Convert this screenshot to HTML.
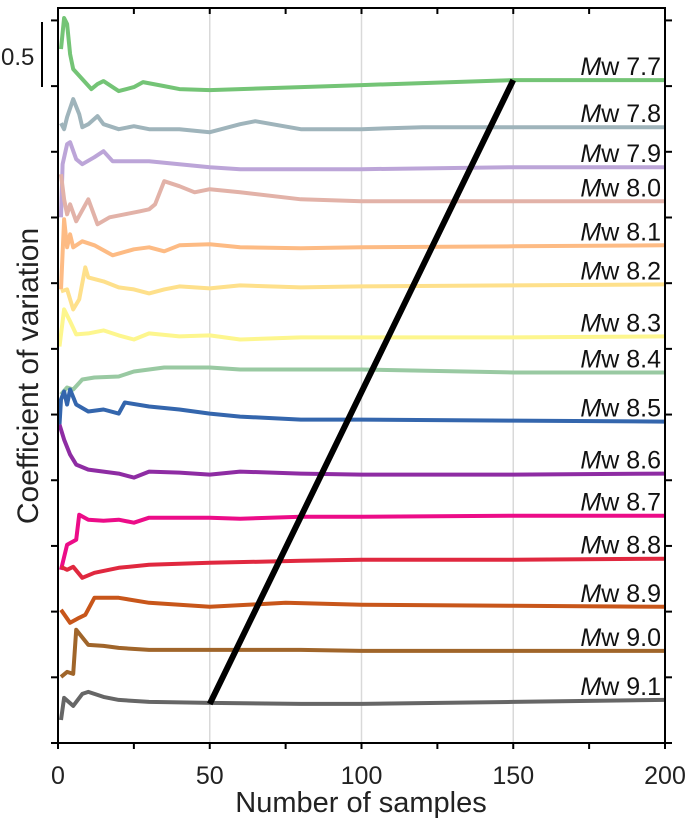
<!DOCTYPE html>
<html><head><meta charset="utf-8"><style>
body{margin:0;background:#fff;}
svg{display:block;font-family:"Liberation Sans",sans-serif;}
</style></head><body>
<svg id="chart" width="685" height="821"></svg>
<script>
// Data (y values are offsets above the bottom axis in plot units; tick step = 0.5 CV)
const labels=["7.7","7.8","7.9","8.0","8.1","8.2","8.3","8.4","8.5","8.6","8.7","8.8","8.9","9.0","9.1"];
const colors=["#74c476","#9fb4bb","#bca5d8","#e2b2a8","#fdbb84","#fee08b","#fdf68e","#99c9a2","#3466ad","#8e2ca3","#ec0c88","#e0283f","#c8561a","#a0652a","#666666"];
const x77=[1,2,3,4,5,8,11,13,15,18,20,25,28,35,40,50,60,80,100,120,150,200];
const y77=[693,724,718,688,673,663,653,658,661,655,651,655,660,656,653,652,653,655,657,659,662,662];
const x78=[1,2,3,5,7,8,10,13,15,20,25,30,40,50,60,65,80,100,120,150,200];
const y78=[619,613,625,643,628,615,618,626,618,613,616,613,613,610,618,621,613,613,615,615,615];
const x79=[1,1.5,3,4,6,8,12,15,18,25,30,40,50,60,70,100,150,200];
const y79=[525,578,598,600,583,578,585,591,581,581,581,578,575,573,573,573,575,575];
const x80=[1,2,3,4,6,10,13,17,22,27,30,32,35,40,45,50,60,80,100,150,200];
const y80=[568,543,528,538,521,543,518,525,528,531,533,538,561,556,550,553,550,543,541,541,541];
const x81=[1,2,3,4,5,8,12,18,25,30,35,40,50,60,80,100,150,200];
const y81=[453,523,495,508,495,501,497,487,493,495,491,497,498,495,494,495,496,497];
const x82=[1,3,5,7,9,10,15,20,25,30,35,40,50,60,80,100,150,200];
const y82=[451,453,433,443,475,465,461,455,453,449,453,456,454,457,455,456,457,458];
const x83=[0.5,2,4,6,10,15,20,25,30,40,50,60,80,100,150,200];
const y83=[396,433,421,408,409,412,407,403,409,406,407,403,405,405,405,406];
const x84=[1,3,5,8,12,20,25,35,50,60,80,100,150,200];
const y84=[348,355,353,363,365,366,371,375,375,373,373,373,370,370];
const x85=[0.5,1,2,3,4,6,10,15,20,22,30,40,50,60,80,100,150,200];
const y85=[318,343,351,338,353,338,331,333,329,340,336,333,329,326,323,323,322,321];
const x86=[0.5,2,4,6,10,15,20,25,30,40,50,60,80,100,150,200];
const y86=[318,303,288,278,273,271,269,265,271,270,268,271,269,268,268,269];
const x87=[1,3,6,7,10,15,20,25,30,40,50,60,80,100,150,200];
const y87=[173,198,203,228,223,222,223,220,225,225,225,224,226,226,227,227];
const x88=[1,3,5,8,12,20,30,50,80,100,150,200];
const y88=[176,173,176,165,170,175,178,180,182,183,183,184];
const x89=[1,4,7,9,12,20,30,50,75,100,150,200];
const y89=[133,120,125,128,145,145,140,136,140,138,137,136];
const x90=[1,3,5,6,10,15,20,30,50,80,100,150,200];
const y90=[66,71,69,113,98,97,95,93,93,93,92,92,92];
const x91=[1,2,5,8,10,15,20,30,50,80,100,150,200];
const y91=[23,45,37,49,51,46,43,41,40,39,39,41,43];
const xsAll=[x77,x78,x79,x80,x81,x82,x83,x84,x85,x86,x87,x88,x89,x90,x91];
const ysAll=[y77,y78,y79,y80,y81,y82,y83,y84,y85,y86,y87,y88,y89,y90,y91];
const xTicks=[0,50,100,150,200];
const trendX=[50,150];
const trendY=[39,662];

const L=58,R=665,T=8,B=743;
const xs=v=>L+v/200*(R-L);
const ys=v=>B-v/734*(B-T);
const NS="http://www.w3.org/2000/svg";
const svg=document.getElementById('chart');
function mk(t,a,p){const e=document.createElementNS(NS,t);for(const k in a)e.setAttribute(k,a[k]);(p||svg).appendChild(e);return e;}

for(const t of [50,100,150]){
 const g=mk('line',{x1:xs(t),x2:xs(t),y1:T,y2:B,stroke:'#d9d9d9','stroke-width':1.5});
 
 
}
ysAll.forEach((yv,i)=>{
 const pts=yv.map((v,j)=>xs(xsAll[i][j]).toFixed(1)+','+ys(v).toFixed(1)).join(' ');
 const pl=mk('polyline',{points:pts,fill:'none',stroke:colors[i],'stroke-width':4,'stroke-linejoin':'round'});
 
 
 const last=yv[yv.length-1];
 const tx=mk('text',{x:661,y:ys(last)-5,'text-anchor':'end','font-size':25,fill:'#111'});
 tx.innerHTML='<tspan font-style="italic">M</tspan>w '+labels[i];
 
 
});
const tl=mk('line',{x1:xs(trendX[0]),y1:ys(trendY[0]),x2:xs(trendX[1]),y2:ys(trendY[1]),stroke:'#000','stroke-width':6});


const fr=mk('rect',{x:L,y:T,width:R-L,height:B-T,fill:'none',stroke:'#000','stroke-width':2});


for(let t=0;t<=200;t+=25){
 mk('line',{x1:xs(t),x2:xs(t),y1:B,y2:B+6,stroke:'#000','stroke-width':2});
 mk('line',{x1:xs(t),x2:xs(t),y1:T,y2:T+6,stroke:'#000','stroke-width':2});
}
xTicks.forEach(t=>{
 const e=mk('text',{x:xs(t),y:784,'text-anchor':'middle','font-size':25,fill:'#222'});
 e.textContent=t;
 
 
});
for(let k=0;k<=11;k++){
 const y=ys(k*65.6);
 mk('line',{x1:L-7,x2:L,y1:y,y2:y,stroke:'#000','stroke-width':2});
 mk('line',{x1:R,x2:R+7,y1:y,y2:y,stroke:'#000','stroke-width':2});
}
</script>
<svg style="position:absolute;left:0;top:0" width="685" height="821">
 <line x1="42" y1="22" x2="42" y2="87" stroke="#000" stroke-width="2"/>
 <text x="1" y="65" font-size="24" fill="#222" font-family="Liberation Sans, sans-serif">0.5</text>
 <text x="0" y="0" transform="translate(38,376) rotate(-90)" text-anchor="middle" font-size="30" fill="#222" font-family="Liberation Sans, sans-serif">Coefficient of variation</text>
 <text x="361" y="812" text-anchor="middle" font-size="29" fill="#222" font-family="Liberation Sans, sans-serif">Number of samples</text>
</svg>
</body></html>
